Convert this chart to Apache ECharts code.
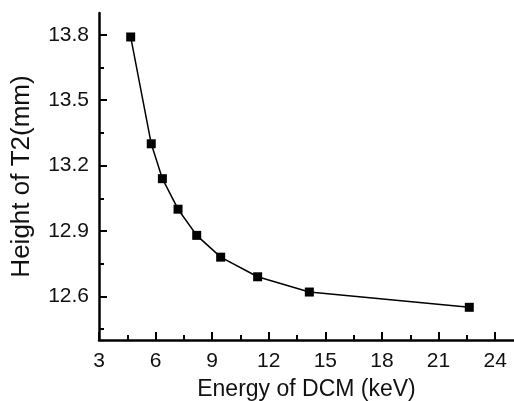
<!DOCTYPE html>
<html>
<head>
<meta charset="utf-8">
<style>
  html, body { margin: 0; padding: 0; background: #fff; }
  #chart { width: 514px; height: 401px; }
</style>
<script src="https://cdn.jsdelivr.net/npm/echarts@6/dist/echarts.min.js"></script>
</head>
<body>
<div id="chart"></div>
<script>
  // energy of DCM (keV) and height of T2 (mm)
  const energy = [4.68, 5.77, 6.36, 7.19, 8.18, 9.45, 11.41, 14.15, 22.63]
  const height = [13.79, 13.30, 13.14, 13.00, 12.88, 12.78, 12.69, 12.62, 12.55]
  const xTicks = [3, 6, 9, 12, 15, 18, 21, 24]
  const xMinorTicks = [4.5, 7.5, 10.5, 13.5, 16.5, 19.5, 22.5]
  const yTicks = [12.6, 12.9, 13.2, 13.5, 13.8]
  const yMinorTicks = [12.45, 12.75, 13.05, 13.35, 13.65]

  const font = 'Liberation Sans, Arial, sans-serif'
  const chart = echarts.init(document.getElementById('chart'))

  const xBase = { type: 'value', min: 3, max: 25, splitLine: { show: false } }
  const yBase = { type: 'value', min: 12.4, max: 13.9, splitLine: { show: false } }

  chart.setOption({
    animation: false,
    backgroundColor: '#fff',
    grid: { left: 99, right: 0, top: 13, bottom: 61, outerBoundsMode: 'none', containLabel: false },
    xAxis: [
      Object.assign({}, xBase, {
        name: 'Energy of DCM (keV)',
        nameLocation: 'middle',
        nameGap: 38,
        nameTextStyle: { fontFamily: font, fontSize: 23, color: '#111' },
        axisLine: { onZero: false, lineStyle: { color: '#000', width: 2.5 } },
        axisTick: { inside: true, length: 8, lineStyle: { color: '#000', width: 2 }, customValues: xTicks },
        axisLabel: { customValues: xTicks, margin: 11, fontFamily: font, fontSize: 21, color: '#111' }
      }),
      Object.assign({}, xBase, {
        position: 'bottom',
        axisLine: { show: false },
        axisTick: { inside: true, length: 5, lineStyle: { color: '#000', width: 2 }, customValues: xMinorTicks },
        axisLabel: { show: false }
      })
    ],
    yAxis: [
      Object.assign({}, yBase, {
        name: 'Height of T2(mm)',
        nameLocation: 'middle',
        nameGap: 64,
        nameTextStyle: { fontFamily: font, fontSize: 26, color: '#111' },
        axisLine: { onZero: false, lineStyle: { color: '#000', width: 2.5 } },
        axisTick: { inside: true, length: 8, lineStyle: { color: '#000', width: 2 }, customValues: yTicks },
        axisLabel: { customValues: yTicks, margin: 10, fontFamily: font, fontSize: 21, color: '#111',
          formatter: v => v.toFixed(1) }
      }),
      Object.assign({}, yBase, {
        position: 'left',
        axisLine: { show: false },
        axisTick: { inside: true, length: 5, lineStyle: { color: '#000', width: 2 }, customValues: yMinorTicks },
        axisLabel: { show: false }
      })
    ],
    series: [
      {
        type: 'line',
        xAxisIndex: 0,
        yAxisIndex: 0,
        data: energy.map((e, i) => [e, height[i]]),
        symbol: 'rect',
        symbolSize: 9,
        itemStyle: { color: '#000' },
        lineStyle: { color: '#000', width: 1.5 }
      }
    ]
  })
</script>
</body>
</html>
